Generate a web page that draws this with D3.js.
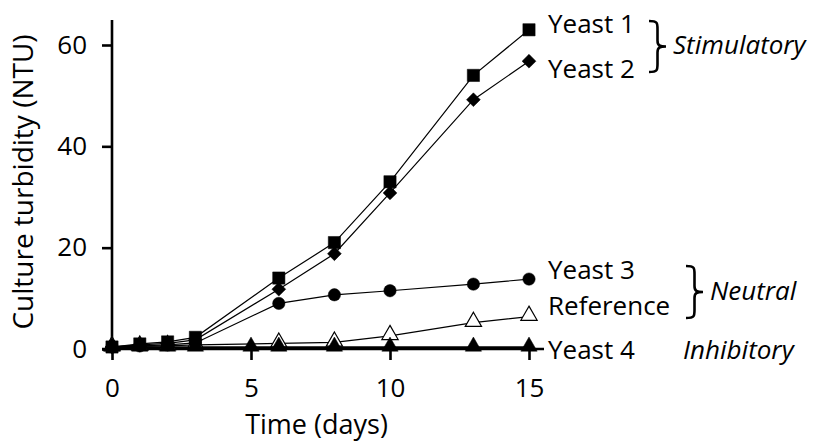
<!DOCTYPE html>
<html>
<head>
<meta charset="utf-8">
<script src="https://cdn.jsdelivr.net/npm/d3@7"></script>
<style>
  body { margin: 0; background: #fff; }
  text { font-family: "Open Sans", "Noto Sans", sans-serif; fill: #000; }
</style>
</head>
<body>
<div id="chart"></div>
<script>
// days sampled
const days = [0, 1, 2, 3, 6, 8, 10, 13, 15];
const yeast4Days = [0, 1, 2, 3, 5, 6, 8, 10, 13, 15];

// turbidity (NTU)
const yeast1 = [0.4, 1.0, 1.4, 2.3, 14, 21, 33, 54, 63];
const yeast2 = [0.4, 0.8, 1.1, 1.8, 11.8, 18.8, 30.8, 49.2, 56.8];
const yeast3 = [0.4, 0.6, 0.8, 1.2, 9, 10.7, 11.5, 12.8, 13.8];
const reference = [0.4, 0.5, 0.6, 0.8, 1.1, 1.3, 2.6, 5.2, 6.4];
const yeast4 = [0.3, 0.3, 0.3, 0.3, 0.3, 0.3, 0.3, 0.3, 0.3, 0.3];

const xTicks = [0, 5, 10, 15];
const yTicks = [0, 20, 40, 60];

const width = 821, height = 442;

const svg = d3.select("#chart").append("svg")
  .attr("width", width)
  .attr("height", height);

const x = d3.scaleLinear().domain([0, 15]).range([112, 529]);
const y = d3.scaleLinear().domain([0, 60]).range([349, 45]);

// axes
const xAxis = svg.append("g")
  .attr("transform", `translate(0,${y(0)})`)
  .call(d3.axisBottom(x).tickValues(xTicks).tickSize(11).tickPadding(8).tickSizeOuter(0));
xAxis.select(".domain").attr("d", `M102,0H544`);

const yAxis = svg.append("g")
  .attr("transform", `translate(${x(0)},0)`)
  .call(d3.axisLeft(y).tickValues(yTicks).tickSize(10).tickPadding(15).tickSizeOuter(0));
yAxis.select(".domain").attr("d", `M0,20V${y(0)}`);

svg.selectAll(".domain").attr("stroke", "#000").attr("stroke-width", 2.6);
svg.selectAll(".tick line").attr("stroke", "#000").attr("stroke-width", 2.6);
svg.selectAll(".tick text").style("font-size", "26px").attr("fill", "#000")
  .style("font-family", '"Open Sans", "Noto Sans", sans-serif');
xAxis.selectAll(".tick text").attr("dy", "1.12em");

svg.append("text")
  .attr("x", (x(0) + x(15)) / 2 - 4)
  .attr("y", 434)
  .attr("text-anchor", "middle")
  .style("font-size", "27px")
  .text("Time (days)");

svg.append("text")
  .attr("transform", `translate(33,${182}) rotate(-90)`)
  .attr("text-anchor", "middle")
  .style("font-size", "28px")
  .text("Culture turbidity (NTU)");

const line = d3.line().x(d => x(d[0])).y(d => y(d[1]));

const series = [
  { name: "reference", xs: days, ys: reference, shape: "triUp", fill: "#fff" },
  { name: "yeast4", xs: yeast4Days, ys: yeast4, shape: "triUp", fill: "#000" },
  { name: "yeast3", xs: days, ys: yeast3, shape: "circle", fill: "#000" },
  { name: "yeast2", xs: days, ys: yeast2, shape: "diamond", fill: "#000" },
  { name: "yeast1", xs: days, ys: yeast1, shape: "square", fill: "#000" }
];

const shapes = {
  square: d3.symbol().type(d3.symbolSquare).size(150),
  diamond: d3.symbol().type(d3.symbolSquare).size(95),
  circle: d3.symbol().type(d3.symbolCircle).size(120),
  triUp: d3.symbol().type(d3.symbolTriangle).size(115)
};

series.forEach(s => {
  const pts = s.xs.map((d, i) => [d, s.ys[i]]);
  svg.append("path")
    .attr("d", line(pts))
    .attr("fill", "none")
    .attr("stroke", "#000")
    .attr("stroke-width", s.name === "yeast4" ? 2.4 : 1.2);
  svg.append("g").selectAll("path")
    .data(pts)
    .join("path")
    .attr("transform", d => `translate(${x(d[0])},${y(d[1]) - (s.shape === "triUp" ? 1 : 0)})` +
      (s.shape === "diamond" ? " rotate(45)" : ""))
    .attr("d", shapes[s.shape])
    .attr("fill", s.fill)
    .attr("stroke", "#000")
    .attr("stroke-width", s.fill === "#fff" ? 1.2 : 0.5);
});

// end labels
const labels = [
  { t: "Yeast 1", y: 33 },
  { t: "Yeast 2", y: 78 },
  { t: "Yeast 3", y: 279 },
  { t: "Reference", y: 315 },
  { t: "Yeast 4", y: 359 }
];
svg.append("g").selectAll("text")
  .data(labels)
  .join("text")
  .attr("x", 548)
  .attr("y", d => d.y)
  .style("font-size", "26px")
  .text(d => d.t);

// curly brace pointing right
function brace(x0, y0, y1, w) {
  const m = (y0 + y1) / 2, h = w / 2;
  return `M${x0},${y0} C${x0 + h},${y0} ${x0 + h},${y0 + 2} ${x0 + h},${y0 + 8}
    L${x0 + h},${m - 6} C${x0 + h},${m - 1} ${x0 + h + 2},${m} ${x0 + w},${m}
    C${x0 + h + 2},${m} ${x0 + h},${m + 1} ${x0 + h},${m + 6}
    L${x0 + h},${y1 - 8} C${x0 + h},${y1 - 2} ${x0 + h},${y1} ${x0},${y1}`;
}
svg.append("path").attr("d", brace(649, 21, 72, 17))
  .attr("fill", "none").attr("stroke", "#000").attr("stroke-width", 2.6);
svg.append("path").attr("d", brace(686, 266, 318, 17))
  .attr("fill", "none").attr("stroke", "#000").attr("stroke-width", 2.6);

const groups = [
  { t: "Stimulatory", x: 673, y: 54 },
  { t: "Neutral", x: 710, y: 300 },
  { t: "Inhibitory", x: 683, y: 359 }
];
svg.append("g").selectAll("text")
  .data(groups)
  .join("text")
  .attr("x", d => d.x)
  .attr("y", d => d.y)
  .style("font-size", "26px")
  .style("font-style", "italic")
  .text(d => d.t);
</script>
</body>
</html>
